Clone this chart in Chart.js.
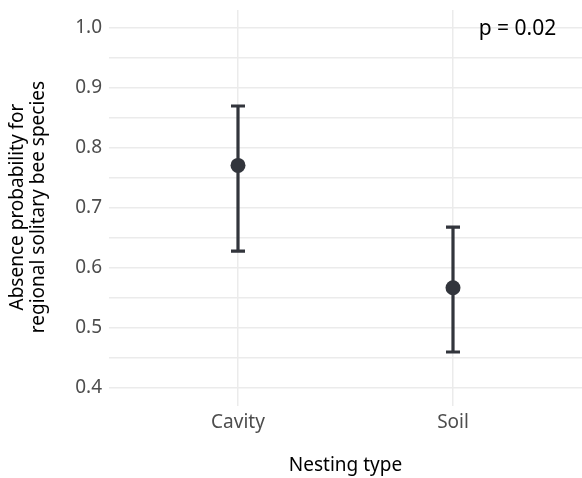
<!DOCTYPE html>
<html>
<head>
<title>Nesting type</title>
<script src="https://cdn.jsdelivr.net/npm/chart.js@4.4.0/dist/chart.umd.min.js"></script>
<style>
  html, body { margin: 0; padding: 0; background: #fff; }
  #wrap { width: 582px; height: 478px; }
</style>
</head>
<body>
<div id="wrap"><canvas id="myChart" width="582" height="478"></canvas></div>
<script>
// data
const categories = ['Cavity', 'Soil'];
const means = [0.771, 0.567];
const lower = [0.628, 0.460];
const upper = [0.870, 0.668];
const yTicks = [0.4, 0.5, 0.6, 0.7, 0.8, 0.9, 1.0];
const yTitle = ['Absence probability for', 'regional solitary bee species'];
const pLabel = 'p = 0.02';

const ink = '#32353c';
const gridColor = '#ebebeb';

// points at x = 1, 2
let points = means.map((m, i) => ({ x: i + 1, y: m }));

// minor grid lines half-way between the majors
let yGrid = [];
yTicks.forEach((t, i) => {
  yGrid.push(t);
  if (i < yTicks.length - 1) yGrid.push((t + yTicks[i + 1]) / 2);
});

const errorBars = {
  id: 'errorBars',
  beforeDatasetsDraw(chart) {
    const ctx = chart.ctx;
    const xs = chart.scales.x, ys = chart.scales.y;
    ctx.save();
    ctx.strokeStyle = ink;
    ctx.lineWidth = 3.2;
    ctx.lineCap = 'butt';
    categories.forEach((c, i) => {
      const px = xs.getPixelForValue(i + 1);
      const top = ys.getPixelForValue(upper[i]);
      const bot = ys.getPixelForValue(lower[i]);
      ctx.beginPath();
      ctx.moveTo(px, top);
      ctx.lineTo(px, bot);
      ctx.moveTo(px - 7, top);
      ctx.lineTo(px + 7, top);
      ctx.moveTo(px - 7, bot);
      ctx.lineTo(px + 7, bot);
      ctx.stroke();
    });
    ctx.restore();
  },
  afterDraw(chart) {
    const ctx = chart.ctx;
    const area = chart.chartArea;
    ctx.save();
    ctx.fillStyle = '#000';
    ctx.font = '21px "Noto Sans"';
    ctx.textAlign = 'center';
    ctx.textBaseline = 'middle';
    ctx.fillText(pLabel, chart.scales.x.getPixelForValue(2.3), chart.scales.y.getPixelForValue(1.0) + 1);

    // y axis title, two lines rotated, centred on the panel
    ctx.font = '19px "Noto Sans"';
    ctx.textBaseline = 'alphabetic';
    ctx.translate(0, (area.top + area.bottom) / 2 - 1);
    ctx.rotate(-Math.PI / 2);
    ctx.fillText(yTitle[0], 0, 23);
    ctx.fillText(yTitle[1], 0, 44);
    ctx.restore();
  }
};

const ctx = document.getElementById('myChart');
const myChart = new Chart(ctx, {
  type: 'scatter',
  data: {
    datasets: [{
      data: points,
      backgroundColor: ink,
      borderColor: ink,
      pointRadius: 7.5,
      pointHoverRadius: 7.5,
      borderWidth: 0
    }]
  },
  options: {
    responsive: false,
    animation: false,
    layout: { autoPadding: false, padding: { top: 10, right: 0, left: 0, bottom: 0 } },
    plugins: { legend: { display: false }, tooltip: { enabled: false } },
    scales: {
      x: {
        type: 'linear',
        min: 0.4,
        max: 2.6,
        afterBuildTicks(scale) {
          scale.ticks = categories.map((c, i) => ({ value: i + 1 }));
        },
        afterFit(scale) { scale.height = 72; },
        ticks: {
          callback: (v) => categories[v - 1] || '',
          color: '#4d4d4d',
          font: { family: 'Noto Sans', size: 19 },
          padding: 5,
          maxRotation: 0
        },
        grid: { color: gridColor, lineWidth: 1.5, drawTicks: false },
        border: { display: false },
        title: {
          display: true,
          text: 'Nesting type',
          color: '#000',
          font: { family: 'Noto Sans', size: 19 },
          padding: { top: 0, bottom: 1 }
        }
      },
      y: {
        min: 0.37,
        max: 1.03,
        afterBuildTicks(scale) {
          scale.ticks = yGrid.map(v => ({ value: v }));
        },
        afterFit(scale) {
          scale.width = 109;
          scale.paddingTop = 0;
          scale.paddingBottom = 0;
        },
        ticks: {
          callback: (v) => yTicks.some(t => Math.abs(t - v) < 1e-6) ? v.toFixed(1) : '',
          color: '#4d4d4d',
          font: { family: 'Noto Sans', size: 19 },
          padding: 7,
          autoSkip: false
        },
        grid: { color: gridColor, lineWidth: 1.5, drawTicks: false },
        border: { display: false }
      }
    }
  },
  plugins: [errorBars]
});
</script>
</body>
</html>
